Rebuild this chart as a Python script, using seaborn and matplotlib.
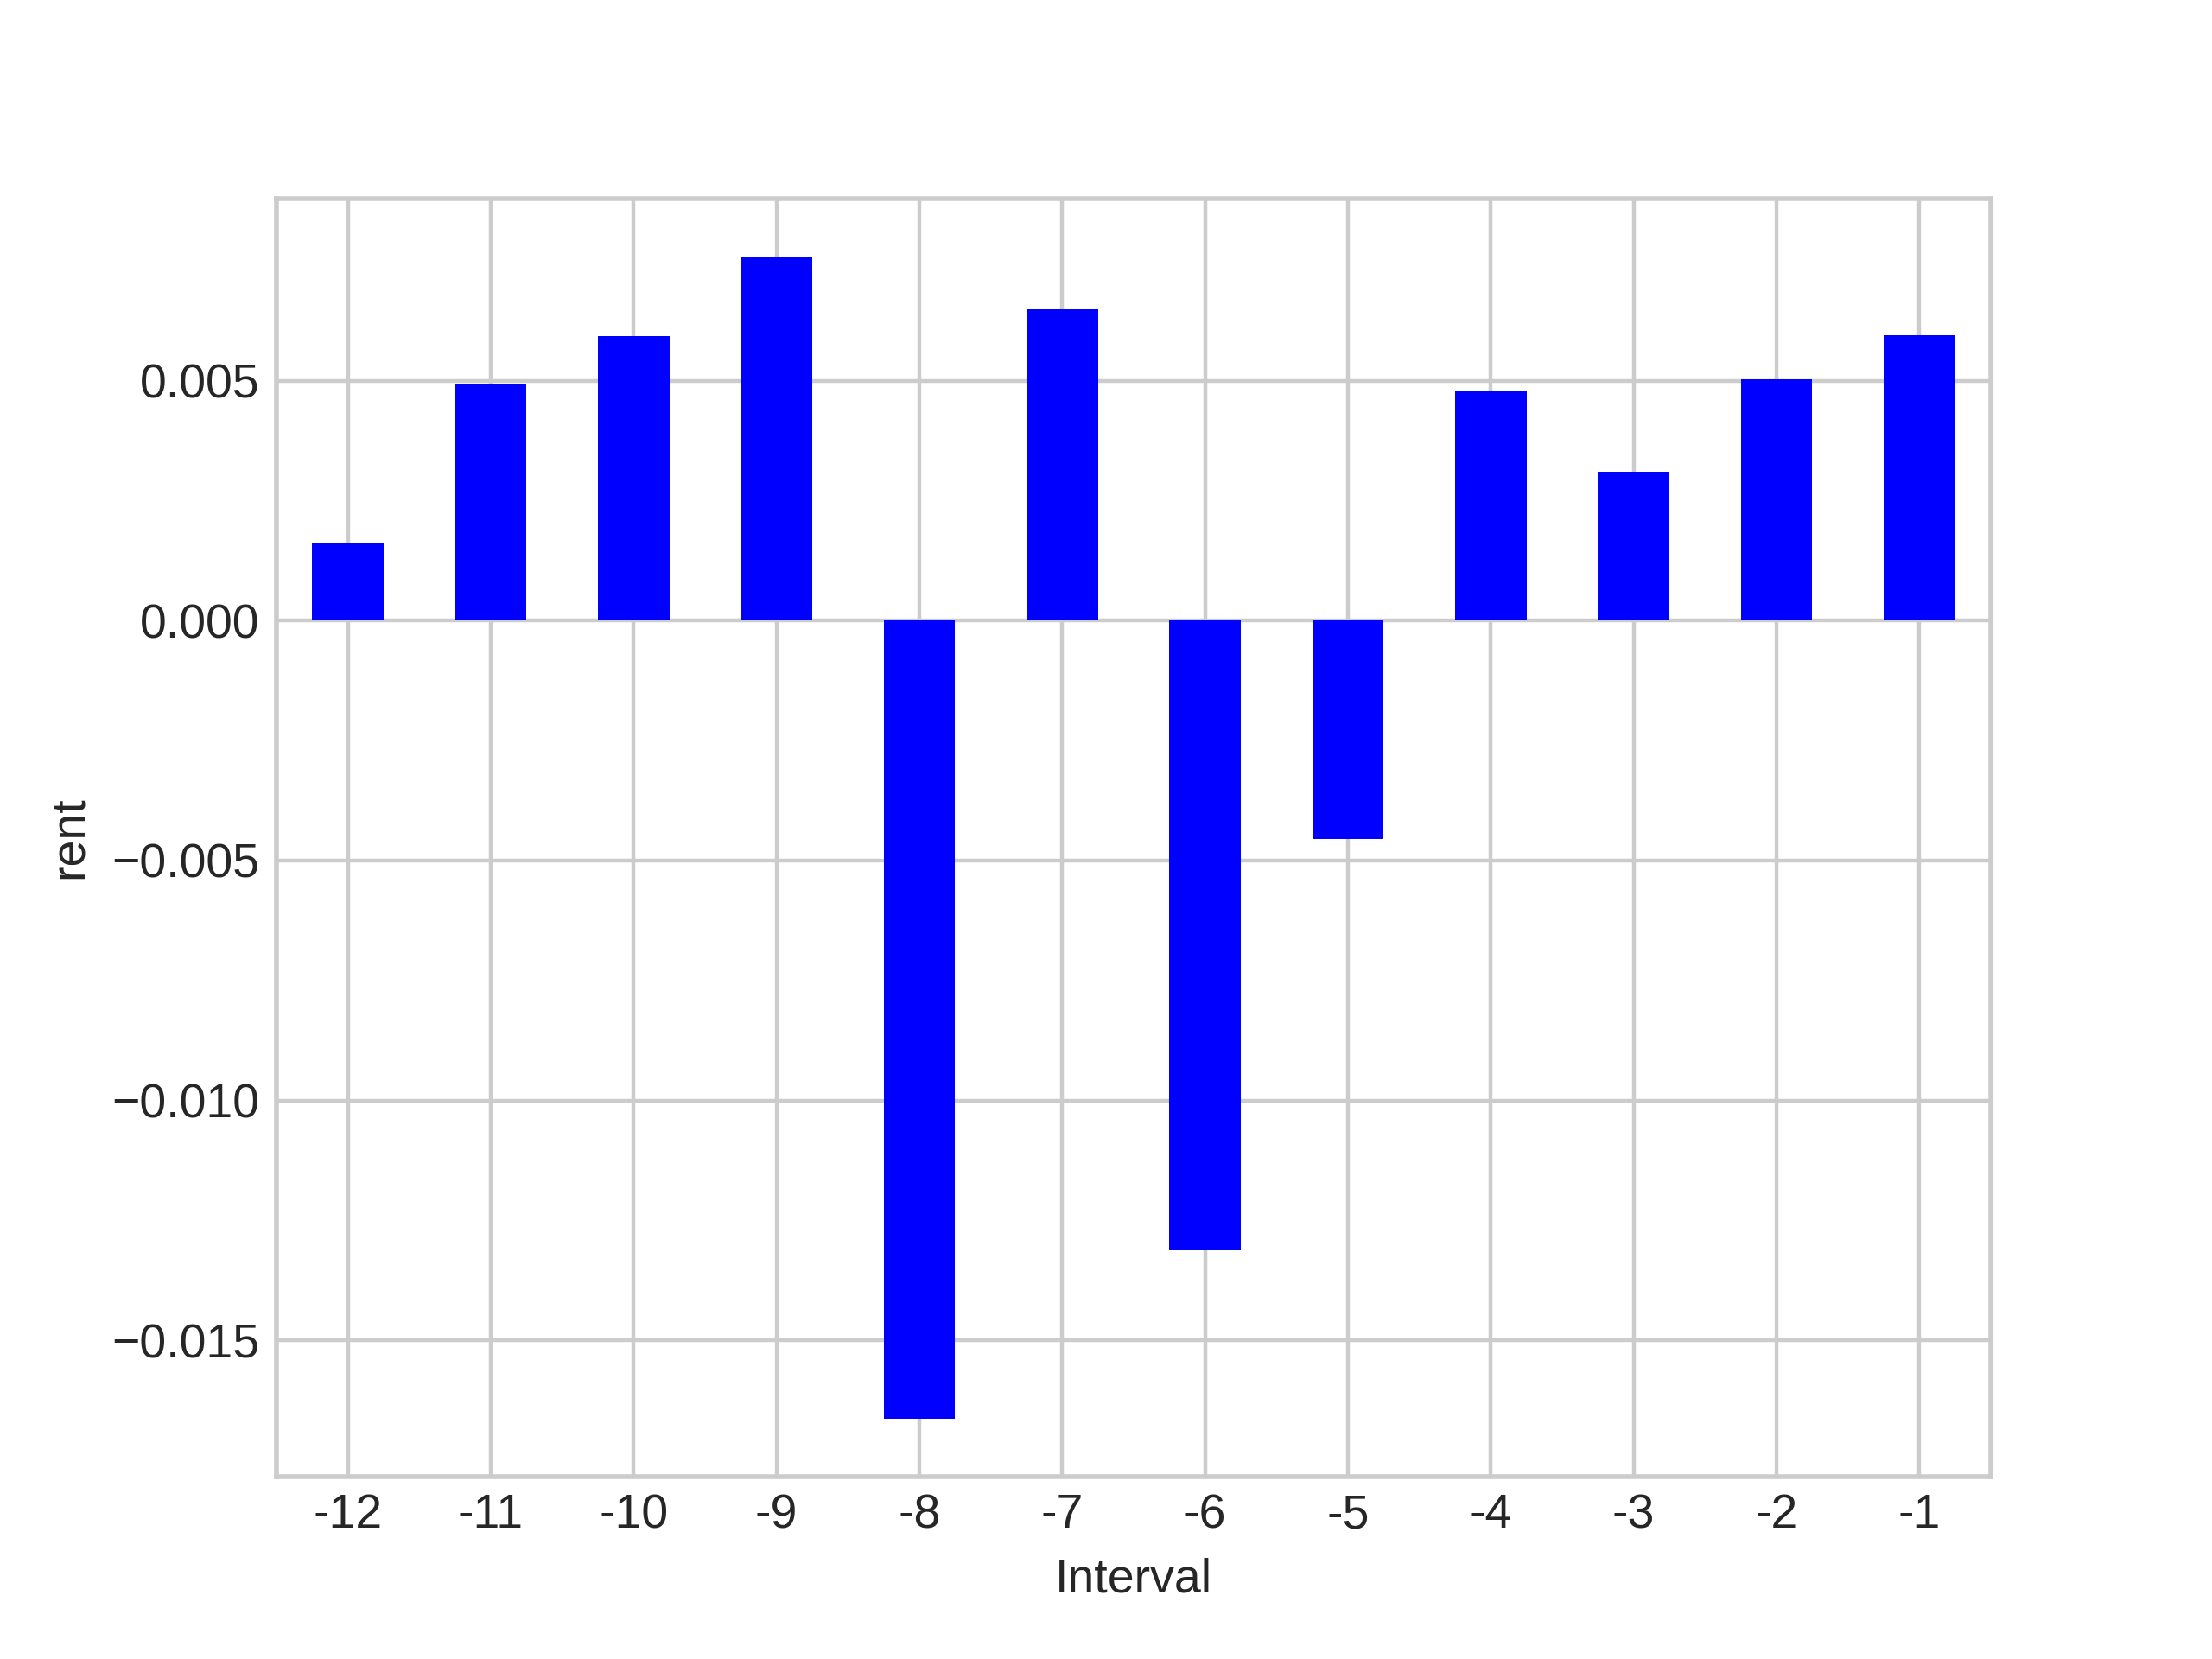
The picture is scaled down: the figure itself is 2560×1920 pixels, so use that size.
import matplotlib
matplotlib.use("Agg")
import matplotlib.pyplot as plt
import seaborn as sns

# valores
intervals = ['-12', '-11', '-10', '-9', '-8', '-7', '-6', '-5', '-4', '-3', '-2', '-1']
rent = [0.00162, 0.00494, 0.00593, 0.00758, -0.01663, 0.00649,
        -0.01313, -0.00455, 0.00478, 0.00311, 0.00503, 0.00596]

sns.set_style("whitegrid")
plt.rcParams['font.family'] = ['Liberation Sans', 'DejaVu Sans']
plt.rcParams['axes.linewidth'] = 1.0
plt.rcParams['grid.linewidth'] = 0.8
plt.rcParams['xtick.major.size'] = 0
plt.rcParams['ytick.major.size'] = 0

fig, ax = plt.subplots(figsize=(6.4, 4.8), dpi=400)
sns.barplot(x=intervals, y=rent, order=intervals, color='blue', saturation=1,
            width=0.5, linewidth=0, ax=ax)
ax.xaxis.grid(True)
ax.set_xlim(-0.5, len(intervals) - 0.5)
ax.set_xlabel('Interval')
ax.set_ylabel('rent')
for s in ax.spines.values():
    s.set_visible(True)
    s.set_color('0.8')

fig.savefig('out.png', dpi=400)
